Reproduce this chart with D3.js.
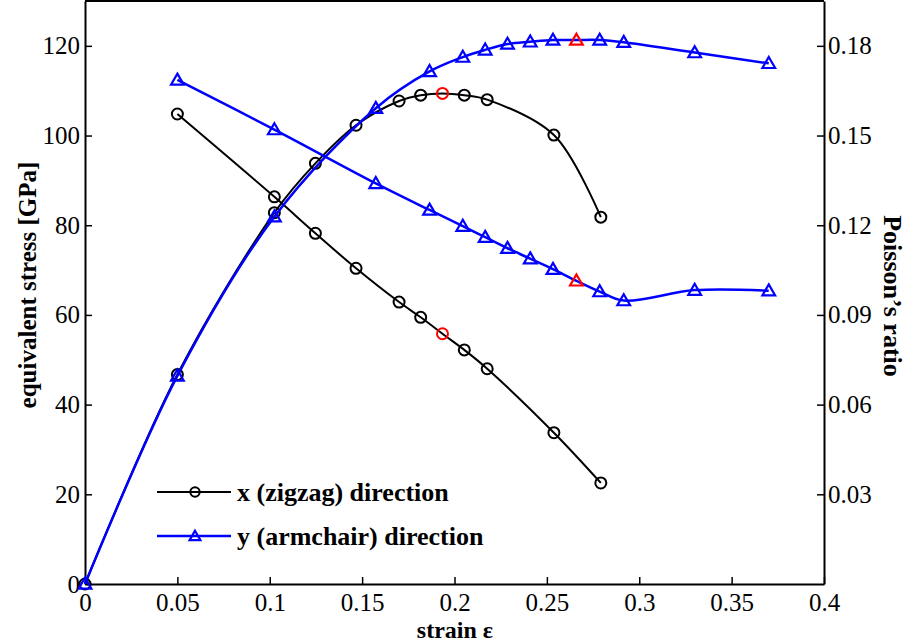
<!DOCTYPE html>
<html>
<head>
<meta charset="utf-8">
<script src="https://cdn.jsdelivr.net/npm/d3@7"></script>
<style>
  body { margin: 0; background: #fff; }
  text { font-family: "Liberation Serif", "Times New Roman", serif; }
</style>
</head>
<body>
<div id="chart"></div>
<script>
// strain values
const zigzagStrain = [0, 0.05, 0.1025, 0.1247, 0.1467, 0.1700, 0.1817, 0.1935, 0.2053, 0.2177, 0.2538, 0.2792];
const armchairStrain = [0, 0.05, 0.1025, 0.1574, 0.1865, 0.2045, 0.2166, 0.2287, 0.2410, 0.2533, 0.2660, 0.2786, 0.2916, 0.3300, 0.3701];

// equivalent stress [GPa]
const zigzagStress = [0, 46.7, 82.8, 93.8, 102.3, 107.7, 109.0, 109.4, 109.0, 108.0, 100.1, 81.8];
const armchairStress = [0, 46.4, 81.9, 106.1, 114.3, 117.5, 119.1, 120.4, 120.9, 121.3, 121.3, 121.3, 120.8, 118.5, 116.1];

// Poisson's ratio (starts at strain 0.05)
const zigzagPoisson = [0.1572, 0.1295, 0.1173, 0.1056, 0.0943, 0.0892, 0.0837, 0.0783, 0.0720, 0.0506, 0.0338];
const armchairPoisson = [0.1686, 0.1520, 0.1340, 0.1251, 0.1197, 0.1160, 0.1123, 0.1088, 0.1053, 0.1014, 0.0978, 0.0948, 0.0983, 0.0981];

// highlighted (red) points, by strain
const zigzagPeak = 0.1935;
const armchairPeak = 0.2660;

const xTicks = [0, 0.05, 0.1, 0.15, 0.2, 0.25, 0.3, 0.35, 0.4];
const stressTicks = [0, 20, 40, 60, 80, 100, 120];
const poissonTicks = [0.03, 0.06, 0.09, 0.12, 0.15, 0.18];

const width = 909,
    height = 642,
    margin = ({ top: 1, right: 85, bottom: 58, left: 85 });

const svg = d3.select("#chart")
    .append("svg")
    .attr("width", width)
    .attr("height", height);

const x = d3.scaleLinear()
    .domain([0, 0.4])
    .range([margin.left, width - margin.right]);

const y = d3.scaleLinear()
    .domain([0, 130])
    .range([height - margin.bottom, margin.top]);

const y2 = d3.scaleLinear()
    .domain([0, 0.195])
    .range([height - margin.bottom, margin.top]);

// axes
const xAxis = g => g
    .attr("transform", `translate(0, ${height - margin.bottom})`)
    .call(d3.axisBottom(x).tickValues(xTicks).tickFormat(d => String(+d.toFixed(2)))
        .tickSizeInner(-7).tickSizeOuter(0).tickPadding(9));

const yAxis = g => g
    .attr("transform", `translate(${margin.left}, 0)`)
    .call(d3.axisLeft(y).tickValues(stressTicks).tickSizeInner(-7).tickSizeOuter(0).tickPadding(5));

const y2Axis = g => g
    .attr("transform", `translate(${width - margin.right}, 0)`)
    .call(d3.axisRight(y2).tickValues(poissonTicks).tickFormat(d3.format(".2f"))
        .tickSizeInner(-7).tickSizeOuter(0).tickPadding(4));

[xAxis, yAxis, y2Axis].forEach(a => {
    const g = svg.append("g").call(a);
    g.selectAll("text").attr("font-size", 25).attr("font-family", "Liberation Serif").attr("fill", "#000");
    g.selectAll("line").attr("stroke", "#000").attr("stroke-width", 1.5);
    g.select(".domain").attr("stroke", "#000").attr("stroke-width", 2);
});

// top border of the box
svg.append("line")
    .attr("x1", x(0)).attr("x2", x(0.4))
    .attr("y1", y(130)).attr("y2", y(130))
    .attr("stroke", "#000").attr("stroke-width", 2);

// series
const series = [
    { strain: zigzagStrain, values: zigzagStress, scale: y, color: "#000", marker: "circle", peak: zigzagPeak, width: 2 },
    { strain: zigzagStrain.slice(1), values: zigzagPoisson, scale: y2, color: "#000", marker: "circle", peak: zigzagPeak, width: 2 },
    { strain: armchairStrain, values: armchairStress, scale: y, color: "#0000ff", marker: "triangle", peak: armchairPeak, width: 2.5 },
    { strain: armchairStrain.slice(1), values: armchairPoisson, scale: y2, color: "#0000ff", marker: "triangle", peak: armchairPeak, width: 2.5 }
];

function drawMarker(g, marker, color, k = 1) {
    if (marker === "circle") {
        g.append("circle").attr("r", 5.5 * k)
            .attr("fill", "none").attr("stroke", color).attr("stroke-width", 2);
    } else {
        g.append("path").attr("d", d3.symbol().type(d3.symbolTriangle).size(70 * k * k))
            .attr("transform", "translate(0,1)")
            .attr("fill", "none").attr("stroke", color).attr("stroke-width", 2.2);
    }
}

series.forEach(s => {
    const pts = s.strain.map((d, i) => ({ x: d, v: s.values[i] }));
    const line = d3.line()
        .x(d => x(d.x))
        .y(d => s.scale(d.v))
        .curve(d3.curveCatmullRom.alpha(0.5));

    svg.append("path")
        .datum(pts)
        .attr("d", line)
        .attr("fill", "none")
        .attr("stroke", s.color)
        .attr("stroke-width", s.width);

    svg.append("g").selectAll("g")
        .data(pts)
        .join("g")
        .attr("transform", d => `translate(${x(d.x)}, ${s.scale(d.v)})`)
        .each(function(d) {
            drawMarker(d3.select(this), s.marker, d.x === s.peak ? "#ff0000" : s.color);
        });
});

// legend
const legendItems = [
    { label: "x (zigzag) direction", color: "#000", marker: "circle", width: 2 },
    { label: "y (armchair) direction", color: "#0000ff", marker: "triangle", width: 2.5 }
];

const legend = svg.append("g").attr("transform", "translate(157, 492)");
legendItems.forEach((d, i) => {
    const g = legend.append("g").attr("transform", `translate(0, ${i * 44})`);
    g.append("line").attr("x1", 0).attr("x2", 74)
        .attr("stroke", d.color).attr("stroke-width", d.width);
    const m = g.append("g").attr("transform", "translate(38, 0)");
    drawMarker(m, d.marker, d.color, 0.85);
    g.append("text")
        .attr("x", 80).attr("y", 9)
        .attr("font-size", 26).attr("font-weight", "bold")
        .text(d.label);
});

// axis titles
svg.append("text")
    .attr("transform", "translate(36, 285) rotate(-90)")
    .attr("text-anchor", "middle")
    .attr("font-size", 25).attr("font-weight", "bold")
    .text("equivalent stress [GPa]");

svg.append("text")
    .attr("transform", "translate(884, 296) rotate(90)")
    .attr("text-anchor", "middle")
    .attr("font-size", 26).attr("font-weight", "bold")
    .text("Poisson’s ratio");

svg.append("text")
    .attr("x", 455)
    .attr("y", 638)
    .attr("text-anchor", "middle")
    .attr("font-size", 24).attr("font-weight", "bold")
    .text("strain ε");
</script>
</body>
</html>
